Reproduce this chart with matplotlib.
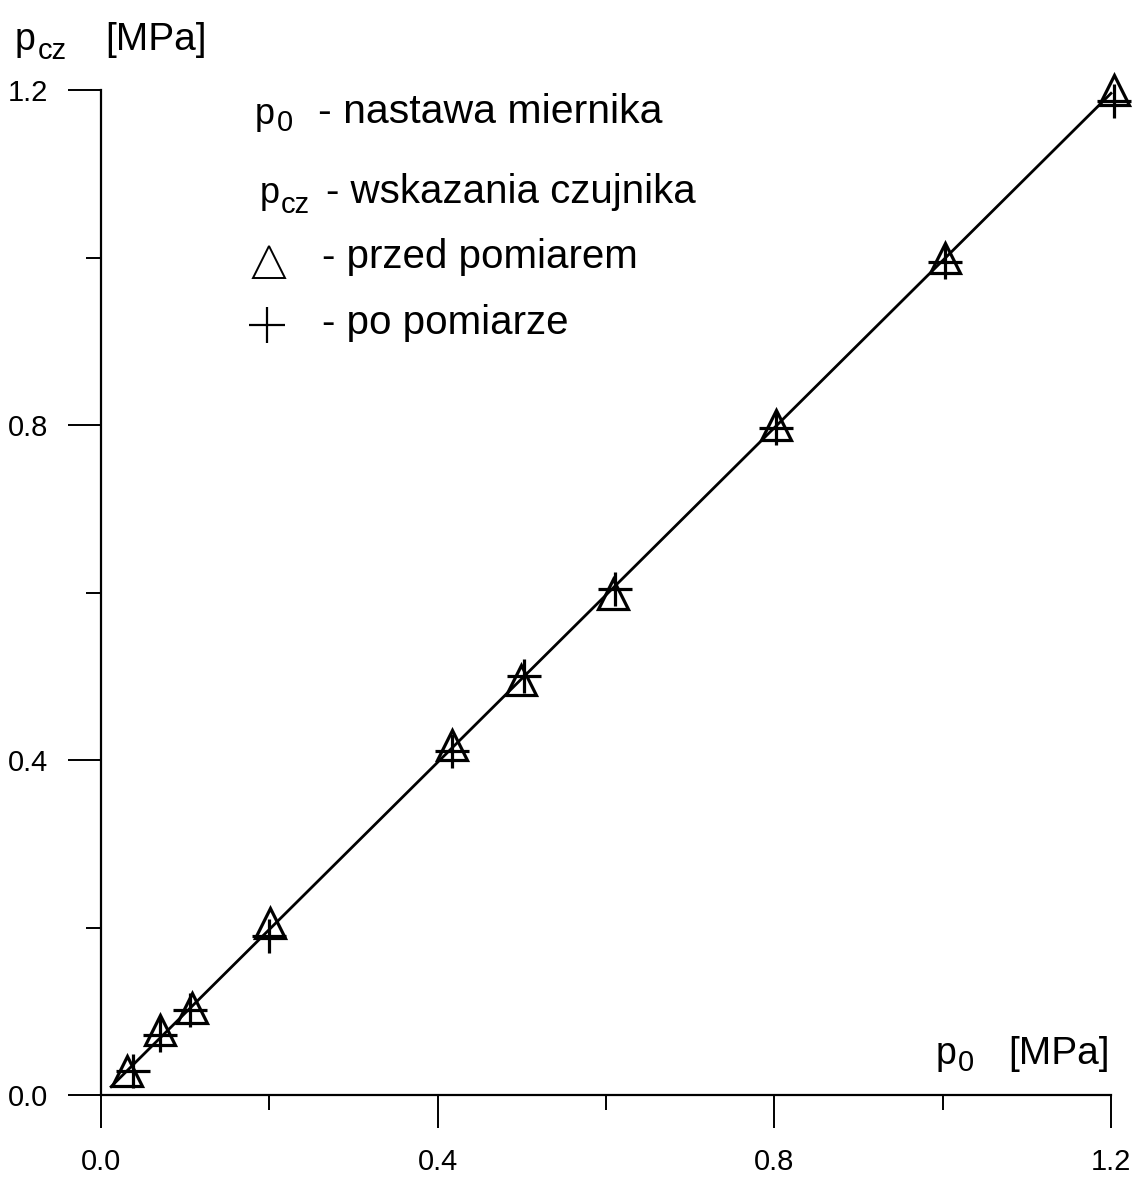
import matplotlib.pyplot as plt
from matplotlib.lines import Line2D

plt.rcParams['font.family'] = ['Liberation Sans', 'DejaVu Sans']

# nastawa miernika p0 i wskazania czujnika pcz [MPa]
p0_przed = [0.031, 0.070, 0.108, 0.201, 0.417, 0.499, 0.608, 0.802, 1.003, 1.204]
pcz_przed = [0.029, 0.078, 0.104, 0.205, 0.418, 0.496, 0.598, 0.800, 0.999, 1.200]

p0_po = [0.038, 0.070, 0.106, 0.200, 0.417, 0.502, 0.611, 0.802, 1.003, 1.204]
pcz_po = [0.029, 0.072, 0.101, 0.190, 0.411, 0.500, 0.604, 0.796, 0.995, 1.187]

# prosta kalibracyjna
linia_x = [0.012, 1.2]
linia_y = [0.010, 1.196]

ticks_major = [0.0, 0.4, 0.8, 1.2]
ticks_minor = [0.2, 0.6, 1.0]

W, H = 1139, 1181
fig = plt.figure(figsize=(W / 100, H / 100), dpi=100)
ax = fig.add_axes([101 / W, 86 / H, 1010 / W, 1005 / H])

ax.plot(linia_x, linia_y, color='black', lw=2.0, clip_on=False, zorder=2)
ax.plot(p0_przed, pcz_przed, ls='none', marker='^', ms=21, mfc='none',
        mec='black', mew=2.3, clip_on=False, zorder=3)
ax.plot(p0_po, pcz_po, ls='none', marker='+', ms=25, mec='black',
        mew=2.3, clip_on=False, zorder=3)

ax.set_xlim(0, 1.2)
ax.set_ylim(0, 1.2)
for s in ['top', 'right']:
    ax.spines[s].set_visible(False)
for s in ['left', 'bottom']:
    ax.spines[s].set_linewidth(1.6)

ax.set_xticks(ticks_major)
ax.set_yticks(ticks_major)
ax.set_xticks(ticks_minor, minor=True)
ax.set_yticks(ticks_minor, minor=True)
ax.set_xticklabels(['%.1f' % t for t in ticks_major])
ax.set_yticklabels(['%.1f' % t for t in ticks_major])
ax.tick_params(which='major', direction='out', length=24, width=1.4,
               labelsize=21, pad=14)
ax.tick_params(which='minor', direction='out', length=11, width=1.4)


def fx(px):
    return px / W


def fy(py):
    return 1 - py / H


# opisy osi
fig.text(fx(15), fy(50), 'p', fontsize=27, va='baseline')
fig.text(fx(38), fy(59), 'cz', fontsize=21, va='baseline')
fig.text(fx(105), fy(50), '[MPa]', fontsize=28, va='baseline')

fig.text(fx(936), fy(1064), 'p', fontsize=27, va='baseline')
fig.text(fx(958), fy(1071), '0', fontsize=21, va='baseline')
fig.text(fx(1110), fy(1064), '[MPa]', fontsize=28, va='baseline', ha='right')

# objaśnienia oznaczeń
fig.text(fx(255), fy(124), 'p', fontsize=26, va='baseline')
fig.text(fx(277), fy(131), '0', fontsize=21, va='baseline')
fig.text(fx(318), fy(123), '- nastawa miernika', fontsize=29.5, va='baseline')

fig.text(fx(260), fy(203), 'p', fontsize=26, va='baseline')
fig.text(fx(281), fy(213), 'cz', fontsize=21, va='baseline')
fig.text(fx(326), fy(203), '- wskazania czujnika', fontsize=29, va='baseline')

fig.add_artist(Line2D([fx(269)], [fy(262)], marker='^', ms=23, mfc='none',
                      mec='black', mew=1.4, ls='none'))
fig.text(fx(322), fy(268), '- przed pomiarem', fontsize=29, va='baseline')

fig.add_artist(Line2D([fx(267)], [fy(325)], marker='+', ms=26,
                      mec='black', mew=1.6, ls='none'))
fig.text(fx(322), fy(334), '- po pomiarze', fontsize=29, va='baseline')

fig.savefig('out.png', dpi=100)
